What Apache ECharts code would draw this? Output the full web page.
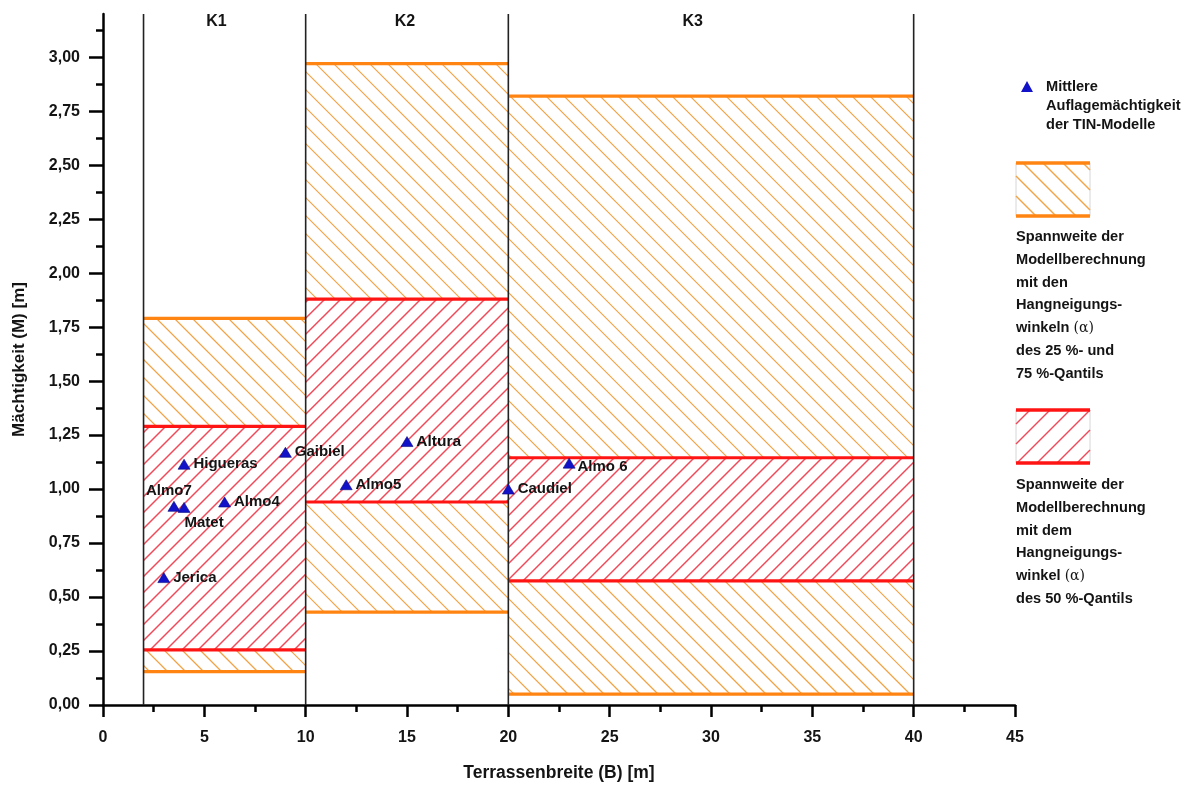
<!DOCTYPE html>
<html>
<head>
<meta charset="utf-8">
<script src="https://cdn.jsdelivr.net/npm/echarts@6/dist/echarts.min.js"></script>
<style>
html,body{margin:0;padding:0;background:#fff;}
#chart{width:1192px;height:785px;}
</style>
</head>
<body>
<div id="chart"></div>
<script>
// ---------- data ----------
const classNames = ['K1', 'K2', 'K3'];
const classLabelX = [5.6, 14.9, 29.1];
const classFrom = [2, 10, 20];
const classTo = [10, 20, 40];
const classBoundaries = [2, 10, 20, 40];
// range with slope angles of 25 % and 75 % quantile
const q2575Low = [0.155, 0.43, 0.05];
const q2575High = [1.79, 2.97, 2.82];
// range with slope angle of 50 % quantile
const q50Low = [0.255, 0.94, 0.575];
const q50High = [1.29, 1.88, 1.145];
// mean thickness of TIN models
const siteNames = ['Jerica', 'Almo7', 'Matet', 'Higueras', 'Almo4', 'Gaibiel', 'Almo5', 'Altura', 'Caudiel', 'Almo 6'];
const siteWidth = [3, 3.5, 4, 4, 6, 9, 12, 15, 20, 23];
const siteThickness = [0.59, 0.92, 0.915, 1.115, 0.94, 1.17, 1.02, 1.22, 1.0, 1.12];
// axis ticks
const yMajorTicks = [0, 0.25, 0.5, 0.75, 1.0, 1.25, 1.5, 1.75, 2.0, 2.25, 2.5, 2.75, 3.0];
const yMinorTicks = [0.125, 0.375, 0.625, 0.875, 1.125, 1.375, 1.625, 1.875, 2.125, 2.375, 2.625, 2.875, 3.125];
const yMax = 3.2;

// ---------- styles ----------
const FONT = 'Liberation Sans, Arial, sans-serif';
const TXT = '#141414';
const ORANGE = '#ff8412';
const ORANGE_HATCH = '#f2a346';
const RED = '#ff1414';
const RED_HATCH = '#f04a5a';
const labelStyle = {
  'Almo7': {position: 'top', offset: [-5, 0]},
  'Matet': {position: 'bottom', offset: [20, 0]},
  'Almo 6': {position: 'right', offset: [-1, 4]},
  'Altura': {fontSize: 15.5}
};

// hatch lines clipped to a pixel rectangle; dir '/' or '\\', spacing measured horizontally
function hatchLines(x0, y0, x1, y1, dir, spacing, color, lw) {
  const out = [];
  if (dir === '/') {
    const cMin = Math.floor((x0 + y0) / spacing) * spacing;
    for (let c = cMin; c <= x1 + y1 + spacing; c += spacing) {
      const xa = Math.max(x0, c - y1), xb = Math.min(x1, c - y0);
      if (xb - xa > 0.3) out.push({type: 'line', silent: true, shape: {x1: xa, y1: c - xa, x2: xb, y2: c - xb}, style: {stroke: color, lineWidth: lw, fill: null}});
    }
  } else {
    const cMin = Math.floor((x0 - y1) / spacing) * spacing;
    for (let c = cMin; c <= x1 - y0 + spacing; c += spacing) {
      const xa = Math.max(x0, c + y0), xb = Math.min(x1, c + y1);
      if (xb - xa > 0.3) out.push({type: 'line', silent: true, shape: {x1: xa, y1: xa - c, x2: xb, y2: xb - c}, style: {stroke: color, lineWidth: lw, fill: null}});
    }
  }
  return out;
}

function bandData(lo, hi) {
  return classFrom.map((f, i) => [f, classTo[i], lo[i], hi[i]]);
}

function bandRenderer(dir, spacing, hatchColor, hatchWidth, stroke, bg) {
  return function (params, api) {
    const p0 = api.coord([api.value(0), api.value(3)]);
    const p1 = api.coord([api.value(1), api.value(2)]);
    const children = [];
    if (bg) children.push({type: 'rect', shape: {x: p0[0], y: p0[1], width: p1[0] - p0[0], height: p1[1] - p0[1]}, style: {fill: bg, stroke: null}});
    hatchLines(p0[0], p0[1], p1[0], p1[1], dir, spacing, hatchColor, hatchWidth).forEach(l => children.push(l));
    children.push({type: 'line', shape: {x1: p0[0], y1: p0[1], x2: p1[0], y2: p0[1]}, style: {stroke: stroke, lineWidth: 3.2}});
    children.push({type: 'line', shape: {x1: p0[0], y1: p1[1], x2: p1[0], y2: p1[1]}, style: {stroke: stroke, lineWidth: 3.2}});
    return {type: 'group', children: children};
  };
}

const scatterData = siteNames.map((n, i) => {
  const ls = labelStyle[n] || {};
  return {
    name: n,
    value: [siteWidth[i], siteThickness[i]],
    label: Object.assign({show: true, position: 'right', distance: 3}, ls)
  };
});

const fmt = v => v.toFixed(2).replace('.', ',');

const chart = echarts.init(document.getElementById('chart'), null, {renderer: 'canvas'});
const legendTextStyle = {fontFamily: FONT, fontWeight: 'bold', fontSize: 14.6, fill: TXT};
const alphaRich = {a: {fontFamily: 'DejaVu Serif', fontWeight: 'normal', fontSize: 14, lineHeight: 22.7, fill: TXT}};

function legendBox(y, dir, hatchColor, stroke) {
  const x0 = 1016, x1 = 1090, y0 = y, y1 = y + 53;
  const children = [{type: 'rect', shape: {x: x0, y: y0, width: x1 - x0, height: y1 - y0}, style: {fill: '#fff', stroke: '#d6d6d6', lineWidth: 1}}];
  hatchLines(x0, y0, x1, y1, dir, 20, hatchColor, 1.4).forEach(l => children.push(l));
  children.push({type: 'line', shape: {x1: x0, y1: y0, x2: x1, y2: y0}, style: {stroke: stroke, lineWidth: 3.5}});
  children.push({type: 'line', shape: {x1: x0, y1: y1, x2: x1, y2: y1}, style: {stroke: stroke, lineWidth: 3.5}});
  return {type: 'group', children: children};
}

chart.setOption({
  animation: false,
  backgroundColor: '#ffffff',
  grid: {left: 103, right: 177, top: 14, bottom: 80, containLabel: false, outerBoundsMode: 'none'},
  xAxis: {
    type: 'value', min: 0, max: 45, interval: 5,
    name: 'Terrassenbreite (B) [m]', nameLocation: 'middle', nameGap: 59,
    nameTextStyle: {fontFamily: FONT, fontWeight: 'bold', fontSize: 17.5, color: TXT},
    axisLine: {show: true, onZero: false, lineStyle: {color: '#000', width: 2.5}},
    axisTick: {show: true, length: 12, lineStyle: {color: '#000', width: 2.5}},
    minorTick: {show: true, splitNumber: 2, length: 7, lineStyle: {color: '#000', width: 2.5}},
    axisLabel: {fontFamily: FONT, fontWeight: 'bold', fontSize: 16, color: TXT, margin: 25},
    splitLine: {show: false}, minorSplitLine: {show: false}
  },
  yAxis: [{
    type: 'value', min: 0, max: yMax, position: 'left',
    name: 'Mächtigkeit (M) [m]', nameLocation: 'middle', nameGap: 75, nameRotate: 90,
    nameTextStyle: {fontFamily: FONT, fontWeight: 'bold', fontSize: 17, color: TXT},
    axisLine: {show: true, onZero: false, lineStyle: {color: '#000', width: 2.5}},
    axisTick: {show: true, length: 14, customValues: yMajorTicks, lineStyle: {color: '#000', width: 2.5}},
    axisLabel: {customValues: yMajorTicks, formatter: fmt, fontFamily: FONT, fontWeight: 'bold', fontSize: 16, color: TXT, margin: 23},
    splitLine: {show: false}
  }, {
    type: 'value', min: 0, max: yMax, position: 'left', offset: 0,
    axisLine: {show: false},
    axisTick: {show: true, length: 7, customValues: yMinorTicks, lineStyle: {color: '#000', width: 2.5}},
    axisLabel: {show: false},
    splitLine: {show: false}
  }],
  series: [
    {
      type: 'custom', name: '25-75', z: 1, silent: true,
      renderItem: bandRenderer('\\', 18, ORANGE_HATCH, 1.2, ORANGE, null),
      encode: {x: [0, 1], y: [2, 3]},
      data: bandData(q2575Low, q2575High)
    },
    {
      type: 'custom', name: '50', z: 2, silent: true,
      renderItem: bandRenderer('/', 16, RED_HATCH, 1.5, RED, '#ffffff'),
      encode: {x: [0, 1], y: [2, 3]},
      data: bandData(q50Low, q50High)
    },
    {
      type: 'custom', name: 'bounds', z: 3, silent: true,
      renderItem: function (params, api) {
        const a = api.coord([api.value(0), 0]);
        const b = api.coord([api.value(0), yMax]);
        return {type: 'line', shape: {x1: a[0], y1: a[1], x2: b[0], y2: b[1]}, style: {stroke: '#222', lineWidth: 1.6}};
      },
      encode: {x: 0, y: 1},
      data: classBoundaries.map(b => [b, 0])
    },
    {
      type: 'scatter', name: 'classes', z: 4, symbolSize: 0, silent: true,
      itemStyle: {opacity: 1},
      label: {show: true, position: 'inside', formatter: p => p.name, fontFamily: FONT, fontWeight: 'bold', fontSize: 16, color: TXT, opacity: 1, textBorderWidth: 0},
      data: classNames.map((n, i) => ({name: n, value: [classLabelX[i], 3.165]}))
    },
    {
      type: 'scatter', name: 'TIN', z: 5,
      symbol: 'triangle', symbolSize: [12, 10],
      itemStyle: {color: '#1212c8', borderColor: '#0a0a80', borderWidth: 0.6, opacity: 1},
      label: {show: true, formatter: p => p.name, fontFamily: FONT, fontWeight: 'bold', fontSize: 15, color: TXT, opacity: 1},
      data: scatterData
    }
  ],
  graphic: [
    {type: 'polygon', shape: {points: [[1027, 81], [1033, 92], [1021, 92]]}, style: {fill: '#1212c8'}},
    {type: 'text', style: Object.assign({text: 'Mittlere\nAuflagemächtigkeit\nder TIN-Modelle', x: 1046, y: 77.5, lineHeight: 19}, legendTextStyle)},
    legendBox(163, '\\', ORANGE_HATCH, ORANGE),
    {type: 'text', style: Object.assign({text: 'Spannweite der\nModellberechnung\nmit den\nHangneigungs-\nwinkeln {a|(α)}\ndes 25 %- und\n75 %-Qantils', x: 1016, y: 226, lineHeight: 22.7, rich: alphaRich}, legendTextStyle)},
    legendBox(410, '/', RED_HATCH, RED),
    {type: 'text', style: Object.assign({text: 'Spannweite der\nModellberechnung\nmit dem\nHangneigungs-\nwinkel {a|(α)}\ndes 50 %-Qantils', x: 1016, y: 474, lineHeight: 22.7, rich: alphaRich}, legendTextStyle)}
  ]
});
</script>
</body>
</html>
